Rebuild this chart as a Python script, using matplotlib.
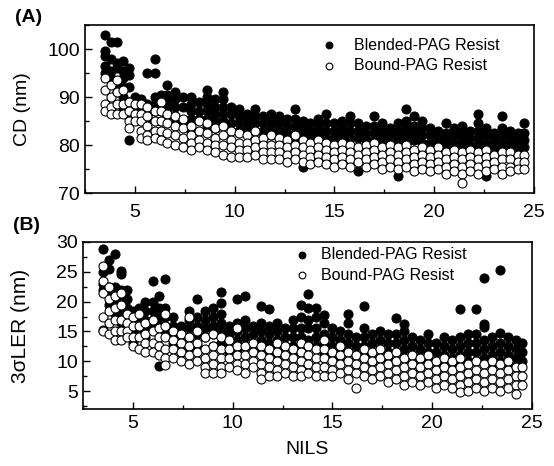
import matplotlib
matplotlib.use("Agg")
import matplotlib.pyplot as plt
from matplotlib.ticker import MultipleLocator

plt.rcParams["font.family"] = ["Liberation Sans", "DejaVu Sans"]

# NILS columns (shared by both panels)
NILS = [3.5, 3.8, 4.1, 4.4, 4.7, 5.0, 5.3, 5.6, 6.0, 6.3, 6.6, 7.0, 7.4, 7.8,
        8.2, 8.6, 9.0, 9.4, 9.8, 10.2, 10.6, 11.0, 11.4, 11.8, 12.2, 12.6,
        13.0, 13.4, 13.8, 14.2, 14.6, 15.0, 15.4, 15.8, 16.2, 16.6, 17.0,
        17.4, 17.8, 18.2, 18.6, 19.0, 19.4, 19.8, 20.2, 20.6, 21.0, 21.4,
        21.8, 22.2, 22.6, 23.0, 23.4, 23.8, 24.2, 24.5]

# (A) CD (nm), one list per NILS column
CD_BLENDED = [
    [103, 99.5, 98.5, 96.5, 95], [101.5, 98, 95.5, 94], [101.5, 97, 96, 93, 91],
    [97.5, 95.5, 94, 92, 90, 88], [96, 94.5, 92, 89, 86.5, 81], [90, 88.5, 86.5],
    [89.5, 88, 86], [95, 88.5, 86, 84.5, 82], [98, 95, 90, 88.5, 87],
    [90.5, 89, 87.5, 85], [92.5, 90.5, 89, 87.5, 86], [91, 89.5, 88, 86, 84.5],
    [90, 88, 85], [90, 88.5, 87, 85.5, 83], [89, 87, 85.5],
    [91.5, 90, 88.5, 87, 85.5, 84], [89.5, 88, 86.5, 85, 83.5], [91, 89.5, 88, 86.5, 85],
    [88, 86.5, 84.5, 80.5], [87.5, 86, 84.5, 83], [86.5, 85, 83.5],
    [87.5, 86, 84.5, 83], [86, 84.5, 83, 81.5], [86.5, 85, 83.5, 82],
    [86, 84.5, 83, 81.5], [85.5, 84, 82.5], [87.5, 85.5, 84, 82.5, 81],
    [85, 83.5, 82, 75.5], [84.5, 83, 81.5], [85.5, 84, 82.5, 81],
    [86.5, 84.5, 83, 81.5], [84.5, 83, 81.5, 80], [85, 83.5, 82, 80.5],
    [86, 84.5, 83, 81.5], [84.5, 83, 81.5, 74.5], [84, 82.5, 81, 79.5],
    [86, 84, 82.5, 81], [84.5, 83, 81.5, 80], [83.5, 82, 80.5],
    [84.5, 83, 81.5, 80, 73.5], [87.5, 85, 83.5, 82, 80.5], [86, 84, 82.5, 81],
    [85, 83.5, 82, 80.5, 79], [83.5, 82, 80.5], [83, 81.5, 80, 78.5],
    [84.5, 82.5, 81, 79.5], [83.5, 82, 80.5, 79], [84, 82.5, 81, 79.5],
    [83, 81.5, 80, 78.5], [86.5, 84.5, 83, 81.5, 80], [83.5, 82, 80.5, 79, 73.5],
    [82.5, 81, 79.5, 78], [86, 83.5, 82, 80.5, 79], [83, 81.5, 80, 78.5],
    [82.5, 81, 79.5], [84.5, 82.5, 81, 79.5],
]
CD_BOUND = [
    [94, 91.5, 88.5, 87], [92.5, 90, 88, 86.5], [93.5, 91, 88.5, 86.5],
    [91.5, 88.5, 86.5], [89, 87, 85, 83.5], [88.5, 86.5, 85],
    [88.5, 86.5, 85, 83, 81.5], [88, 86, 84, 82, 81], [87, 85, 83, 81.5],
    [89, 87, 85, 83, 81], [86.5, 84.5, 82.5, 80.5], [86, 84, 82, 80],
    [85.5, 83.5, 81.5, 79.5], [84, 82, 80.5, 79], [85, 83, 81, 79.5],
    [84.5, 82.5, 80.5, 79], [83.5, 81.5, 80, 78.5], [84, 82, 80, 78],
    [83, 81, 79.5, 77.5], [82.5, 80.5, 79, 77.5], [82, 80.5, 79, 77.5],
    [83, 81, 79.5, 78], [81.5, 80, 78.5, 77], [82, 80, 78.5, 77],
    [81.5, 80, 78.5, 77], [81, 79.5, 78, 76.5], [82, 80, 78.5, 77],
    [81, 79.5, 78, 76.5], [80.5, 79, 77.5, 76], [81, 79.5, 78, 76.5],
    [80.5, 79, 77.5, 76], [80, 78.5, 77, 75.5], [80.5, 79, 77.5, 76],
    [80, 78.5, 77, 75.5], [79.5, 78, 76.5], [80, 78.5, 77, 75.5],
    [80.5, 79, 77.5, 76], [79.5, 78, 76.5, 75], [80, 78.5, 77, 75.5],
    [79.5, 78, 76.5, 75], [80, 78.5, 77, 75.5], [79, 77.5, 76, 74.5],
    [79.5, 78, 76.5, 75], [79, 77.5, 76, 74.5], [79.5, 78, 76.5, 75],
    [78.5, 77, 75.5, 74], [79, 77.5, 76, 74.5], [78.5, 77, 75.5, 74, 72],
    [79, 77.5, 76, 74.5], [78.5, 77, 75.5, 74], [79, 77.5, 76, 74.5],
    [78, 76.5, 75], [78.5, 77, 75.5, 74], [78.5, 77, 75.5, 74.5],
    [78, 76.5, 75], [78, 76.5, 75],
]

# (B) 3-sigma LER (nm), one list per NILS column
LER_BLENDED = [
    [28.8, 25, 23, 22, 15.3], [27, 25.5, 22.5, 21, 19.5], [28, 22.5, 21, 19.5, 18],
    [25.2, 24.6, 22, 20, 18.5, 16.5], [22, 20.5, 19, 17.5, 16], [18.5, 17, 15.5, 13],
    [19, 17.5, 16, 14.5], [20, 18.5, 17, 15.5, 14], [23.5, 20, 18.5, 17, 15.5],
    [21, 19, 17.5, 16, 14.5, 9.2], [23.8, 19, 17.5, 16, 14.5], [17.5, 16, 14.5, 13],
    [16, 14.5, 13, 11.5], [18.5, 17, 15.5, 14, 12], [20.5, 17.5, 16, 14.5, 12.5],
    [18.5, 17, 15.5, 14], [19, 17.5, 16, 14.5, 12.5], [21.7, 19.8, 18, 16.5, 15, 13],
    [16, 14.5, 13, 11.5], [20.5, 16.5, 15, 13.5, 12], [21, 17, 15.5, 14, 12.5],
    [16, 14.5, 13, 11.5], [19.3, 16.5, 15, 13.5, 12], [18.7, 16, 14.5, 13, 11.5],
    [16.5, 15, 13.5, 12, 10.5], [15.5, 14, 12.5, 11], [17, 15.5, 14, 12.5, 11],
    [19.5, 17.5, 15.5, 14, 12.5], [21.2, 19, 17, 15.5, 13.5], [19, 17.5, 15.5, 14, 12.5],
    [17.8, 16.5, 14.5, 13, 11.5], [15.5, 14, 12.5, 11], [15, 13.5, 12, 10.5],
    [18, 16.5, 14.5, 13, 11.5], [14, 12.5, 11, 9.5], [19.2, 15.5, 14, 12.5, 11],
    [14.5, 13, 11.5, 10], [15, 13.5, 12, 10.5], [14.5, 13, 11.5, 10],
    [17.3, 14.5, 13, 11.5, 10], [16.3, 15, 13.5, 12, 10.5], [14, 12.5, 11, 9.5],
    [13.5, 12, 10.5, 9], [14.6, 13, 11.5, 10], [13, 11.5, 10, 8.5],
    [14, 12.5, 11, 9.5], [13.5, 12, 10.5, 9], [18.7, 14, 12.5, 11, 9.5],
    [14.5, 13, 11.5, 10, 8], [18.7, 14.5, 13, 11.5, 10], [24, 16.3, 15.8, 13.5, 12, 10.5],
    [14, 12.5, 11, 9.5], [25.3, 14.8, 13, 11.5, 10], [14, 12.5, 11, 9.5],
    [13.5, 12, 10.5, 9], [13, 11.5, 10],
]
LER_BOUND = [
    [26, 23.5, 21.5, 17.5, 15], [22.5, 20.5, 18.5, 16.5, 14.5], [21, 19, 17, 15, 13.5],
    [21.5, 19.5, 17, 15, 13.5], [18, 16.5, 15, 14], [17.5, 16, 14, 12.5],
    [18, 16, 14, 12], [16.5, 14.5, 13, 11.5], [17, 15, 13, 11.5],
    [15.5, 14, 12.5, 11], [18, 16, 14, 12, 10.5, 9.3], [15, 13.5, 12, 10.5],
    [14.5, 13, 11.5, 10], [17.5, 14, 12.5, 11, 9.5], [15, 13, 11.5, 10],
    [14, 12, 10.5, 9, 8], [14.5, 12.5, 11, 9.5, 8], [14, 12, 10.5, 9, 8],
    [13.5, 12, 10.5, 9], [15.5, 12.5, 11, 9.5, 8.5], [12.5, 11, 9.5, 8],
    [13, 11.5, 10, 9], [12.5, 11, 9.5, 8, 7], [12, 10.5, 9, 7.5],
    [13, 11.5, 10, 8.5, 7.5], [12.5, 11, 9.5, 8], [12, 10.5, 9, 7.5],
    [13, 11.5, 10, 8.5, 7.5], [12.5, 11, 9.5, 8], [12, 10.5, 9, 7.5],
    [13.5, 12, 10.5, 9, 7.5], [11.5, 10, 8.5, 7.5], [12.5, 11, 9.5, 8],
    [11.5, 10, 8.5, 7], [11, 9.5, 8, 5.5], [12, 10.5, 9, 7.5],
    [11.5, 10, 8.5, 7], [12, 10.5, 9, 7.5], [11, 9.5, 8, 6.5],
    [11.5, 10, 8.5, 7], [10.5, 9, 7.5, 6], [11, 9.5, 8, 6.5],
    [10.5, 9, 7.5, 6], [11, 9.5, 8, 6.5], [10, 8.5, 7, 5.5],
    [10.5, 9, 7.5, 6], [10, 8.5, 7, 5.5], [10.5, 9, 7.5, 6, 4.8],
    [9.5, 8, 6.5, 5], [10, 8.5, 7, 5.5], [9.5, 8, 6.5, 5],
    [10, 8.5, 7, 5.5], [9.5, 8, 6.5, 5], [10, 8.5, 7, 5.5],
    [9, 7.5, 6, 4.5], [9, 7.5, 6],
]

LABEL_BLENDED = "Blended-PAG Resist"
LABEL_BOUND = "Bound-PAG Resist"


def flatten(cols):
    xs, ys = [], []
    for x, vals in zip(NILS, cols):
        for v in vals:
            xs.append(x)
            ys.append(v)
    return xs, ys


def style_axis(ax, ylim, ymajor, yminor, xpad):
    ax.set_xlim(2.5, 25)
    ax.set_ylim(*ylim)
    ax.xaxis.set_major_locator(MultipleLocator(5))
    ax.xaxis.set_minor_locator(MultipleLocator(2.5))
    ax.yaxis.set_major_locator(MultipleLocator(ymajor))
    ax.yaxis.set_minor_locator(MultipleLocator(yminor))
    ax.tick_params(which="both", direction="in", width=1.0)
    ax.tick_params(which="major", length=5, labelsize=14)
    ax.tick_params(which="minor", length=3)
    ax.tick_params(axis="x", which="major", pad=xpad)
    for sp in ax.spines.values():
        sp.set_linewidth(1.2)


def draw_panel(ax, blended, bound, leg_anchor, textpad):
    bx, by = flatten(blended)
    ox, oy = flatten(bound)
    ax.scatter(bx, by, s=42, facecolor="black", edgecolor="black",
               linewidths=0.8, label=LABEL_BLENDED, zorder=2)
    ax.scatter(ox, oy, s=42, facecolor="white", edgecolor="black",
               linewidths=0.8, label=LABEL_BOUND, zorder=3)
    ax.legend(loc="upper left", bbox_to_anchor=leg_anchor, frameon=False,
              fontsize=11.5, handlelength=1.0, handletextpad=textpad,
              borderpad=0, borderaxespad=0, labelspacing=0.35,
              markerscale=0.75)


fig = plt.figure(figsize=(5.54, 4.66), dpi=100)
ax_a = fig.add_axes([0.1534, 0.5858, 0.8105, 0.3605])
ax_b = fig.add_axes([0.1498, 0.1223, 0.8105, 0.3584])

draw_panel(ax_a, CD_BLENDED, CD_BOUND, (0.525, 0.925), 1.1)
style_axis(ax_a, (70, 105), 10, 5, 8)
ax_a.set_ylabel("CD (nm)", fontsize=14)
ax_a.yaxis.set_label_coords(-0.12, 0.5)

draw_panel(ax_b, LER_BLENDED, LER_BOUND, (0.47, 0.97), 0.7)
style_axis(ax_b, (2, 30), 5, 2.5, 4)
ax_b.set_ylabel("3\u03c3LER (nm)", fontsize=15)
ax_b.yaxis.set_label_coords(-0.118, 0.5)
ax_b.set_xlabel("NILS", fontsize=14)
ax_b.xaxis.set_label_coords(0.5, -0.19)

fig.text(0.027, 1 - 17 / 466, "(A)", fontsize=14, fontweight="bold", va="center")
fig.text(0.024, 1 - 226 / 466, "(B)", fontsize=14, fontweight="bold", va="center")

fig.savefig("out.png", dpi=100)
